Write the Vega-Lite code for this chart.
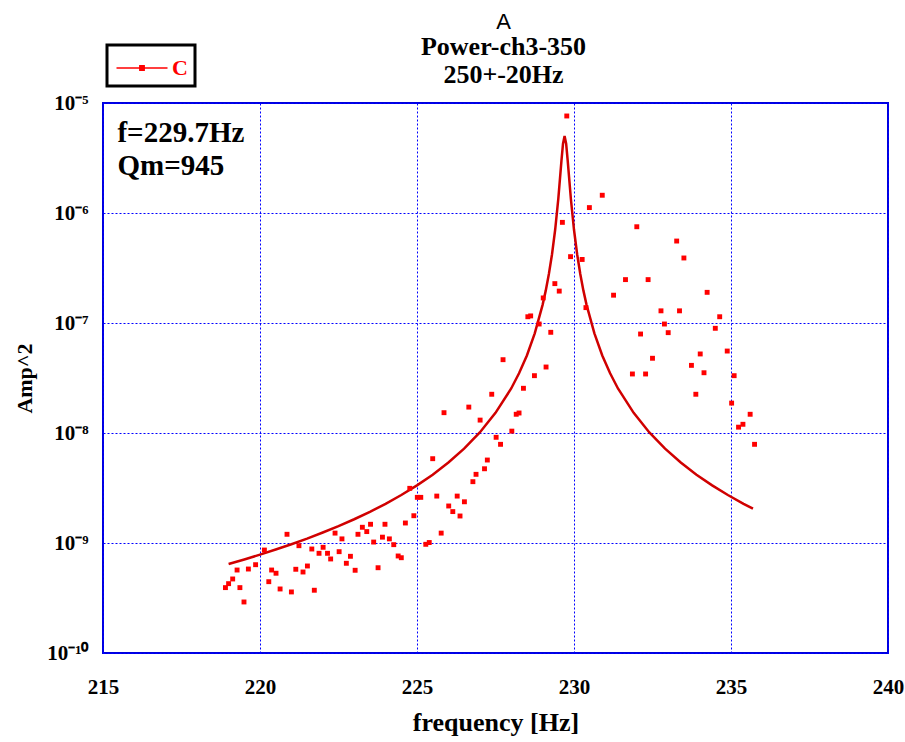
{
  "$schema": "https://vega.github.io/schema/vega-lite/v6.json",
  "width": 785,
  "height": 550,
  "autosize": {"type": "none"},
  "padding": {"left": 103, "top": 103, "right": 17, "bottom": 89},
  "background": "white",
  "title": {
    "text": "A",
    "subtitle": ["Power-ch3-350", "250+-20Hz"],
    "font": "Liberation Sans",
    "fontSize": 22,
    "fontWeight": "normal",
    "color": "black",
    "subtitleFont": "Liberation Serif",
    "subtitleFontSize": 26,
    "subtitleFontWeight": "bold",
    "subtitleColor": "black",
    "subtitlePadding": 0,
    "subtitleLineHeight": 28,
    "offset": 0,
    "dy": 45,
    "dx": 8,
    "anchor": "middle"
  },
  "datasets": {
    "fit": [
      {"f": 219.0, "amp": 6.45e-10}, {"f": 219.5, "amp": 7.09e-10}, {"f": 220.0, "amp": 7.84e-10},
      {"f": 220.5, "amp": 8.72e-10}, {"f": 221.0, "amp": 9.75e-10}, {"f": 221.5, "amp": 1.097e-9},
      {"f": 222.0, "amp": 1.245e-9}, {"f": 222.5, "amp": 1.424e-9}, {"f": 223.0, "amp": 1.644e-9},
      {"f": 223.5, "amp": 1.92e-9}, {"f": 224.0, "amp": 2.271e-9}, {"f": 224.5, "amp": 2.729e-9},
      {"f": 225.0, "amp": 3.34e-9}, {"f": 225.5, "amp": 4.18e-9}, {"f": 226.0, "amp": 5.39e-9},
      {"f": 226.5, "amp": 7.2e-9}, {"f": 227.0, "amp": 1.012e-8}, {"f": 227.5, "amp": 1.524e-8},
      {"f": 228.0, "amp": 2.54e-8}, {"f": 228.25, "amp": 3.49e-8}, {"f": 228.5, "amp": 5.07e-8},
      {"f": 228.75, "amp": 8.05e-8}, {"f": 229.0, "amp": 1.462e-7}, {"f": 229.1, "amp": 1.969e-7},
      {"f": 229.2, "amp": 2.787e-7}, {"f": 229.3, "amp": 4.22e-7}, {"f": 229.4, "amp": 7.04e-7},
      {"f": 229.5, "amp": 1.347e-6}, {"f": 229.6, "amp": 2.976e-6}, {"f": 229.65, "amp": 4.27e-6},
      {"f": 229.7, "amp": 5.0e-6}, {"f": 229.75, "amp": 4.27e-6}, {"f": 229.8, "amp": 2.976e-6},
      {"f": 229.9, "amp": 1.347e-6}, {"f": 230.0, "amp": 7.04e-7}, {"f": 230.1, "amp": 4.22e-7},
      {"f": 230.2, "amp": 2.787e-7}, {"f": 230.3, "amp": 1.969e-7}, {"f": 230.4, "amp": 1.462e-7},
      {"f": 230.65, "amp": 8.05e-8}, {"f": 230.9, "amp": 5.07e-8}, {"f": 231.15, "amp": 3.49e-8},
      {"f": 231.4, "amp": 2.54e-8}, {"f": 231.9, "amp": 1.524e-8}, {"f": 232.4, "amp": 1.012e-8},
      {"f": 232.9, "amp": 7.2e-9}, {"f": 233.4, "amp": 5.39e-9}, {"f": 233.9, "amp": 4.18e-9},
      {"f": 234.4, "amp": 3.34e-9}, {"f": 234.9, "amp": 2.729e-9}, {"f": 235.4, "amp": 2.271e-9},
      {"f": 235.7, "amp": 2.05e-9}
    ],
    "meas": [
      {"f": 218.90, "amp": 3.93e-10, "series": "C"}, {"f": 219.00, "amp": 4.27e-10, "series": "C"},
      {"f": 219.13, "amp": 4.71e-10, "series": "C"}, {"f": 219.27, "amp": 5.68e-10, "series": "C"},
      {"f": 219.36, "amp": 3.93e-10, "series": "C"}, {"f": 219.49, "amp": 2.91e-10, "series": "C"},
      {"f": 219.63, "amp": 5.80e-10, "series": "C"}, {"f": 219.86, "amp": 6.35e-10, "series": "C"},
      {"f": 220.14, "amp": 8.63e-10, "series": "C"}, {"f": 220.28, "amp": 4.45e-10, "series": "C"},
      {"f": 220.37, "amp": 5.68e-10, "series": "C"}, {"f": 220.51, "amp": 5.31e-10, "series": "C"},
      {"f": 220.64, "amp": 3.82e-10, "series": "C"}, {"f": 220.86, "amp": 1.20e-9, "series": "C"},
      {"f": 221.00, "amp": 3.59e-10, "series": "C"}, {"f": 221.14, "amp": 5.77e-10, "series": "C"},
      {"f": 221.24, "amp": 9.45e-10, "series": "C"}, {"f": 221.37, "amp": 5.45e-10, "series": "C"},
      {"f": 221.51, "amp": 6.18e-10, "series": "C"}, {"f": 221.65, "amp": 8.82e-10, "series": "C"},
      {"f": 221.73, "amp": 3.72e-10, "series": "C"}, {"f": 221.88, "amp": 8.06e-10, "series": "C"},
      {"f": 222.01, "amp": 9.14e-10, "series": "C"}, {"f": 222.15, "amp": 8.06e-10, "series": "C"},
      {"f": 222.25, "amp": 7.16e-10, "series": "C"}, {"f": 222.39, "amp": 1.23e-9, "series": "C"},
      {"f": 222.52, "amp": 8.34e-10, "series": "C"}, {"f": 222.61, "amp": 1.09e-9, "series": "C"},
      {"f": 222.75, "amp": 6.54e-10, "series": "C"}, {"f": 222.88, "amp": 7.57e-10, "series": "C"},
      {"f": 223.03, "amp": 5.65e-10, "series": "C"}, {"f": 223.12, "amp": 1.20e-9, "series": "C"},
      {"f": 223.26, "amp": 1.39e-9, "series": "C"}, {"f": 223.40, "amp": 1.27e-9, "series": "C"},
      {"f": 223.52, "amp": 1.48e-9, "series": "C"}, {"f": 223.62, "amp": 1.02e-9, "series": "C"},
      {"f": 223.76, "amp": 5.96e-10, "series": "C"}, {"f": 223.90, "amp": 1.13e-9, "series": "C"},
      {"f": 223.98, "amp": 1.48e-9, "series": "C"}, {"f": 224.12, "amp": 1.09e-9, "series": "C"},
      {"f": 224.26, "amp": 9.66e-10, "series": "C"}, {"f": 224.40, "amp": 7.62e-10, "series": "C"},
      {"f": 224.50, "amp": 7.35e-10, "series": "C"}, {"f": 224.63, "amp": 1.52e-9, "series": "C"},
      {"f": 224.77, "amp": 3.14e-9, "series": "C"}, {"f": 224.90, "amp": 1.77e-9, "series": "C"},
      {"f": 225.01, "amp": 2.60e-9, "series": "C"}, {"f": 225.12, "amp": 2.60e-9, "series": "C"},
      {"f": 225.28, "amp": 9.73e-10, "series": "C"}, {"f": 225.39, "amp": 1.01e-9, "series": "C"},
      {"f": 225.50, "amp": 5.84e-9, "series": "C"}, {"f": 225.63, "amp": 2.67e-9, "series": "C"},
      {"f": 225.77, "amp": 1.23e-9, "series": "C"}, {"f": 225.86, "amp": 1.53e-8, "series": "C"},
      {"f": 226.01, "amp": 2.17e-9, "series": "C"}, {"f": 226.14, "amp": 1.93e-9, "series": "C"},
      {"f": 226.28, "amp": 2.67e-9, "series": "C"}, {"f": 226.37, "amp": 1.76e-9, "series": "C"},
      {"f": 226.51, "amp": 2.37e-9, "series": "C"}, {"f": 226.65, "amp": 1.72e-8, "series": "C"},
      {"f": 226.78, "amp": 3.61e-9, "series": "C"}, {"f": 226.88, "amp": 4.21e-9, "series": "C"},
      {"f": 227.01, "amp": 1.31e-8, "series": "C"}, {"f": 227.15, "amp": 4.73e-9, "series": "C"},
      {"f": 227.24, "amp": 5.68e-9, "series": "C"}, {"f": 227.38, "amp": 2.25e-8, "series": "C"},
      {"f": 227.52, "amp": 9.14e-9, "series": "C"}, {"f": 227.66, "amp": 7.89e-9, "series": "C"},
      {"f": 227.74, "amp": 4.64e-8, "series": "C"}, {"f": 228.02, "amp": 1.04e-8, "series": "C"},
      {"f": 228.16, "amp": 1.48e-8, "series": "C"}, {"f": 228.25, "amp": 1.52e-8, "series": "C"},
      {"f": 228.39, "amp": 2.55e-8, "series": "C"}, {"f": 228.53, "amp": 1.14e-7, "series": "C"},
      {"f": 228.62, "amp": 1.16e-7, "series": "C"}, {"f": 228.74, "amp": 3.32e-8, "series": "C"},
      {"f": 228.89, "amp": 9.79e-8, "series": "C"}, {"f": 229.02, "amp": 1.69e-7, "series": "C"},
      {"f": 229.11, "amp": 3.98e-8, "series": "C"}, {"f": 229.26, "amp": 8.23e-8, "series": "C"},
      {"f": 229.39, "amp": 2.28e-7, "series": "C"}, {"f": 229.53, "amp": 1.95e-7, "series": "C"},
      {"f": 229.63, "amp": 8.22e-7, "series": "C"}, {"f": 229.77, "amp": 7.62e-6, "series": "C"},
      {"f": 229.89, "amp": 4.01e-7, "series": "C"}, {"f": 230.26, "amp": 3.78e-7, "series": "C"},
      {"f": 230.38, "amp": 1.38e-7, "series": "C"}, {"f": 230.49, "amp": 1.12e-6, "series": "C"},
      {"f": 230.90, "amp": 1.45e-6, "series": "C"}, {"f": 231.26, "amp": 1.79e-7, "series": "C"},
      {"f": 231.64, "amp": 2.48e-7, "series": "C"}, {"f": 232.00, "amp": 7.50e-7, "series": "C"},
      {"f": 232.12, "amp": 7.94e-8, "series": "C"}, {"f": 231.86, "amp": 3.44e-8, "series": "C"},
      {"f": 232.28, "amp": 3.44e-8, "series": "C"}, {"f": 232.36, "amp": 2.48e-7, "series": "C"},
      {"f": 232.50, "amp": 4.78e-8, "series": "C"}, {"f": 232.77, "amp": 1.29e-7, "series": "C"},
      {"f": 232.88, "amp": 9.79e-8, "series": "C"}, {"f": 233.00, "amp": 8.17e-8, "series": "C"},
      {"f": 233.27, "amp": 5.56e-7, "series": "C"}, {"f": 233.36, "amp": 1.29e-7, "series": "C"},
      {"f": 233.50, "amp": 3.90e-7, "series": "C"}, {"f": 233.74, "amp": 4.12e-8, "series": "C"},
      {"f": 233.88, "amp": 2.25e-8, "series": "C"}, {"f": 234.02, "amp": 5.23e-8, "series": "C"},
      {"f": 234.14, "amp": 3.53e-8, "series": "C"}, {"f": 234.24, "amp": 1.90e-7, "series": "C"},
      {"f": 234.50, "amp": 8.95e-8, "series": "C"}, {"f": 234.64, "amp": 1.14e-7, "series": "C"},
      {"f": 234.88, "amp": 5.56e-8, "series": "C"}, {"f": 235.02, "amp": 1.87e-8, "series": "C"},
      {"f": 235.10, "amp": 3.32e-8, "series": "C"}, {"f": 235.24, "amp": 1.13e-8, "series": "C"},
      {"f": 235.38, "amp": 1.20e-8, "series": "C"}, {"f": 235.61, "amp": 1.48e-8, "series": "C"},
      {"f": 235.75, "amp": 7.89e-9, "series": "C"}
    ],
    "notes": [
      {"f": 215.46, "amp": 5.33e-6, "label": "f=229.7Hz"},
      {"f": 215.46, "amp": 2.65e-6, "label": "Qm=945"}
    ]
  },
  "encoding": {
    "x": {
      "field": "f",
      "type": "quantitative",
      "scale": {"domain": [215, 240], "nice": false, "zero": false},
      "axis": {
        "values": [215, 220, 225, 230, 235, 240],
        "title": "frequency [Hz]",
        "format": "d",
        "labelFlush": false
      }
    },
    "y": {
      "field": "amp",
      "type": "quantitative",
      "scale": {"type": "log", "domain": [1e-10, 1e-5], "nice": false},
      "axis": {
        "values": [1e-10, 1e-9, 1e-8, 1e-7, 1e-6, 1e-5],
        "title": "Amp^2",
        "labelFlush": false,
        "labelExpr": "datum.value >= 9e-6 ? '10⁻⁵' : datum.value >= 9e-7 ? '10⁻⁶' : datum.value >= 9e-8 ? '10⁻⁷' : datum.value >= 9e-9 ? '10⁻⁸' : datum.value >= 9e-10 ? '10⁻⁹' : '10⁻¹⁰'"
      }
    }
  },
  "layer": [
    {
      "data": {"name": "fit"},
      "mark": {"type": "line", "color": "#d00000", "strokeWidth": 2.5}
    },
    {
      "data": {"name": "meas"},
      "mark": {"type": "point", "shape": "square", "filled": true, "size": 24, "opacity": 1},
      "encoding": {
        "color": {
          "field": "series",
          "type": "nominal",
          "scale": {"domain": ["C"], "range": ["#ff0000"]},
          "legend": {
            "title": null,
            "orient": "none",
            "legendX": 4,
            "legendY": -58,
            "strokeColor": "black",
            "fillColor": "white",
            "padding": 7,
            "symbolType": "M-1.7,0H1.7M-0.15,-0.15H0.15V0.15H-0.15Z",
            "symbolSize": 900,
            "symbolOffset": 12,
            "symbolStrokeColor": "#ff0000",
            "symbolStrokeWidth": 1.3,
            "symbolFillColor": "#ff0000",
            "labelFont": "Liberation Serif",
            "labelFontWeight": "bold",
            "labelFontSize": 22,
            "labelColor": "#ff0000",
            "labelOffset": 14
          }
        }
      }
    },
    {
      "data": {"name": "notes"},
      "mark": {"type": "text", "align": "left", "baseline": "middle", "font": "Liberation Serif", "fontWeight": "bold", "fontSize": 29, "color": "black"},
      "encoding": {"text": {"field": "label"}}
    }
  ],
  "config": {
    "view": {"stroke": "#0000dd", "strokeWidth": 2},
    "legend": {"strokeWidth": 3},
    "axis": {
      "grid": true,
      "gridColor": "#0000ff",
      "gridDash": [2, 2],
      "gridWidth": 1,
      "gridOpacity": 1,
      "domain": false,
      "ticks": false,
      "labelFont": "Liberation Serif",
      "labelFontWeight": "bold",
      "labelColor": "black",
      "titleFont": "Liberation Serif",
      "titleFontWeight": "bold",
      "titleColor": "black"
    },
    "axisX": {"labelFontSize": 21, "labelPadding": 23, "titleFontSize": 26, "titlePadding": 12},
    "axisY": {"labelFontSize": 21, "labelPadding": 15, "titleFontSize": 22, "titlePadding": 10}
  }
}
